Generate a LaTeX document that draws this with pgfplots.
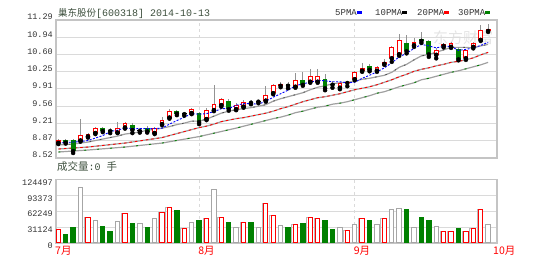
\documentclass[border=0pt]{standalone}
\usepackage{fontspec}
\usepackage{pgfplots}
\usepackage{pgfplotstable}
\pgfplotsset{compat=1.18}
\setmainfont{Liberation Sans}
\newfontfamily\cjk{Noto Sans CJK SC}
\newfontfamily\mono{Liberation Mono}
\definecolor{upred}{HTML}{FF0000}
\definecolor{dngreen}{HTML}{008000}
\definecolor{framec}{HTML}{C4C4C4}
\definecolor{gridc}{HTML}{DADADA}
\definecolor{txt}{HTML}{333333}
\definecolor{titlec}{HTML}{3D4F3D}
\definecolor{magray}{HTML}{A0A0A0}

\pgfplotstableread{
x bl bh l h t
1 8.82 8.88 8.80 8.90 1
2 8.83 8.89 8.81 8.91 2
3 8.66 8.89 8.62 8.91 2
4 8.87 8.98 8.85 9.30 1
5 8.95 9.01 8.93 9.03 1
6 9.02 9.12 9.00 9.15 1
7 9.06 9.13 9.04 9.15 2
8 9.06 9.08 9.02 9.12 2
9 9.03 9.13 9.02 9.25 1
10 9.13 9.23 9.11 9.25 1
11 9.08 9.19 9.02 9.23 2
12 9.06 9.075 9.03 9.13 3
13 9.05 9.13 9.03 9.16 2
14 9.02 9.12 9.00 9.14 1
15 9.20 9.28 9.18 9.34 1
16 9.33 9.47 9.31 9.50 1
17 9.41 9.46 9.38 9.48 2
18 9.40 9.415 9.37 9.44 3
19 9.42 9.50 9.40 9.52 1
20 9.24 9.42 9.20 9.44 2
21 9.30 9.49 9.28 9.52 1
22 9.48 9.61 9.46 9.99 1
23 9.58 9.70 9.55 9.73 1
24 9.50 9.67 9.47 9.70 2
25 9.50 9.59 9.48 9.62 1
26 9.55 9.65 9.53 9.68 1
27 9.63 9.65 9.60 9.68 2
28 9.65 9.665 9.62 9.68 3
29 9.67 9.79 9.65 9.97 1
30 9.82 9.98 9.80 10.00 1
31 9.97 10.00 9.94 10.05 4
32 9.97 10.00 9.92 10.05 2
33 9.95 10.09 9.93 10.22 1
34 9.99 10.08 9.97 10.24 2
35 10.05 10.16 10.03 10.30 1
36 10.05 10.17 10.03 10.30 1
37 9.92 10.10 9.88 10.20 2
38 9.99 10.01 9.93 10.06 2
39 9.93 10.02 9.90 10.04 1
40 10.025 10.045 9.96 10.05 4
41 10.10 10.25 10.08 10.27 1
42 10.27 10.32 10.25 10.42 1
43 10.29 10.36 10.26 10.40 2
44 10.27 10.35 10.25 10.37 1
45 10.41 10.45 10.39 10.50 4
46 10.52 10.75 10.45 10.77 1
47 10.60 10.89 10.57 11.00 1
48 10.66 10.83 10.62 10.98 2
49 10.78 10.85 10.75 10.93 1
50 10.87 10.90 10.83 11.05 2
51 10.60 10.86 10.55 10.88 2
52 10.59 10.69 10.52 10.72 1
53 10.77 10.80 10.74 10.83 4
54 10.75 10.82 10.73 10.84 1
55 10.50 10.70 10.48 10.74 2
56 10.52 10.69 10.49 10.71 1
57 10.75 10.82 10.72 10.85 1
58 10.89 11.09 10.87 11.19 1
59 11.07 11.10 11.05 11.20 4
}\candles

\pgfplotstableread{
x v t
1 26900 1
2 17000 2
3 29500 2
4 108000 3
5 50400 1
6 43200 3
7 32100 2
8 22900 2
9 41300 3
10 58300 1
11 38000 2
12 38000 3
13 29500 2
14 48500 3
15 60300 1
16 69400 1
17 62900 2
18 28800 1
19 39300 3
20 43900 2
21 48500 1
22 104800 3
23 49100 1
24 39300 2
25 30100 3
26 39300 1
27 39300 2
28 29500 3
29 78000 1
30 54400 1
31 33400 3
32 29500 2
33 36000 1
34 38000 2
35 49100 1
36 47200 1
37 43200 2
38 26900 2
39 30100 3
40 24200 1
41 36000 3
42 47200 1
43 43200 2
44 36000 3
45 47200 1
46 65500 3
47 67500 3
48 65500 2
49 30100 3
50 49100 2
51 43200 2
52 31400 3
53 22300 1
54 22300 1
55 28200 2
56 22900 1
57 28800 1
58 65500 1
59 35400 3
}\vols

\pgfplotstableread{
x m5 m10
1 8.82 8.78
2 8.83 8.79
3 8.84 8.80
4 8.85 8.82
5 8.87 8.84
6 8.92 8.87
7 8.97 8.90
8 9.05 8.93
9 9.08 8.96
10 9.12 9.00
11 9.11 9.02
12 9.11 9.04
13 9.11 9.08
14 9.11 9.09
15 9.12 9.12
16 9.20 9.15
17 9.27 9.19
18 9.34 9.22
19 9.41 9.26
20 9.40 9.26
21 9.41 9.30
22 9.45 9.36
23 9.51 9.42
24 9.51 9.46
25 9.58 9.49
26 9.61 9.51
27 9.61 9.53
28 9.60 9.56
29 9.66 9.59
30 9.74 9.66
31 9.81 9.71
32 9.88 9.75
33 9.97 9.79
34 10.01 9.83
35 10.04 9.89
36 10.08 9.94
37 10.07 9.97
38 10.05 10.01
39 10.05 10.03
40 10.03 10.04
41 10.04 10.06
42 10.12 10.10
43 10.18 10.12
44 10.25 10.15
45 10.33 10.18
46 10.43 10.24
47 10.55 10.34
48 10.62 10.40
49 10.72 10.49
50 10.80 10.57
51 10.77 10.60
52 10.73 10.64
53 10.76 10.69
54 10.76 10.74
55 10.68 10.74
56 10.70 10.74
57 10.73 10.73
58 10.78 10.77
59 10.84 10.80
}\mafast

\pgfplotstableread{
x m20
1 8.70
5 8.74
10 8.82
15 8.93
19 9.09
20 9.13
21 9.16
22 9.20
23 9.25
24 9.28
25 9.31
26 9.33
27 9.36
28 9.39
29 9.42
30 9.46
31 9.51
32 9.55
33 9.60
34 9.65
35 9.69
36 9.73
37 9.75
38 9.78
39 9.81
40 9.85
41 9.89
42 9.92
43 9.95
44 9.99
45 10.04
46 10.09
47 10.15
48 10.20
49 10.26
50 10.30
51 10.33
52 10.37
53 10.40
54 10.44
55 10.46
56 10.49
57 10.53
58 10.59
59 10.64
}\matwenty

\pgfplotstableread{
x m30
1 8.64
5 8.68
10 8.74
15 8.82
20 8.95
25 9.12
30 9.31
31 9.34
32 9.38
33 9.43
34 9.46
35 9.50
36 9.54
37 9.56
38 9.60
39 9.62
40 9.65
41 9.69
42 9.73
43 9.77
44 9.82
45 9.85
46 9.90
47 9.95
48 9.99
49 10.03
50 10.09
51 10.12
52 10.16
53 10.20
54 10.24
55 10.27
56 10.31
57 10.35
58 10.39
59 10.44
}\mathirty

\pgfplotsset{
  body/.style={only marks, mark=none, restrict expr to domain={\thisrow{t}}{#1:#1},
    error bars/.cd, y dir=plus, y explicit, error mark=none},
  panel/.style={scale only axis, width=441pt, xmin=0.69, xmax=60.2,
    axis line style={draw=framec, line width=1.3pt},
    xtick={0.69,20,41,60.2},
    major tick length=0pt,
    xmajorgrids, ymajorgrids,
    x grid style={draw=gridc, dash pattern=on 3pt off 3pt, line width=1pt},
    y grid style={draw=gridc, line width=1pt},
    yticklabel style={font=\mono\fontsize{8.5}{9}\selectfont, text=txt, inner sep=0pt, xshift=-3pt}},
  vbar/.style={ybar, bar width=4.4pt, bar shift=0pt, line width=1pt, restrict expr to domain={\thisrow{t}}{#1:#1}},
}

\begin{document}
\begin{tikzpicture}
\path[use as bounding box] (0,0) rectangle (550pt,262pt);
\node[anchor=center, text=gray!22, font=\cjk\fontsize{15}{15}\selectfont, inner sep=0] at (463pt,224pt) {东方财富};

\begin{axis}[panel, at={(56pt,104pt)}, anchor=south west, height=138pt,
  ymin=8.52, ymax=11.29, xticklabels={},
  ytick={8.52,8.86625,9.2125,9.55875,9.905,10.25125,10.5975,10.94375,11.29},
  yticklabels={8.52,8.87,9.21,9.56,9.91,10.25,10.60,10.94,11.29},
  yticklabel style={yshift=3pt}]
\addplot[magray, line width=1.2pt] table[x=x,y=m30]{\mathirty};
\addplot[dngreen, line width=0.9pt, dash pattern=on 2pt off 11pt] table[x=x,y=m30]{\mathirty};
\addplot[magray, line width=1.2pt] table[x=x,y=m20]{\matwenty};
\addplot[upred, line width=0.9pt, dash pattern=on 2.5pt off 3pt] table[x=x,y=m20]{\matwenty};
\addplot[magray, line width=1.2pt] table[x=x,y=m10]{\mafast};
\addplot[black!70, line width=0.8pt, dash pattern=on 1.5pt off 9pt] table[x=x,y=m10]{\mafast};
% wicks
\addplot[only marks, mark=none, error bars/.cd, y dir=plus, y explicit, error mark=none,
  error bar style={draw=gray!85, line width=0.8pt}]
  table[x=x, y=l, y error expr=\thisrow{h}-\thisrow{l}]{\candles};
% bodies
\addplot[body=1, error bar style={draw=upred, line width=4.8pt, line cap=butt}]
  table[x=x, y=bl, y error expr=\thisrow{bh}-\thisrow{bl}]{\candles};
\addplot[body=1, error bar style={draw=white, line width=2.8pt, line cap=butt, shorten <=1pt, shorten >=1pt}]
  table[x=x, y=bl, y error expr=\thisrow{bh}-\thisrow{bl}]{\candles};
\addplot[body=4, error bar style={draw=upred, line width=4.8pt, line cap=butt}]
  table[x=x, y=bl, y error expr=\thisrow{bh}-\thisrow{bl}]{\candles};
\addplot[body=2, error bar style={draw=dngreen, line width=4.8pt, line cap=butt}]
  table[x=x, y=bl, y error expr=\thisrow{bh}-\thisrow{bl}]{\candles};
\addplot[body=3, error bar style={draw=black, line width=4.8pt, line cap=butt}]
  table[x=x, y=bl, y error expr=\thisrow{bh}-\thisrow{bl}]{\candles};
\addplot[blue, line width=0.9pt, dash pattern=on 2pt off 1.5pt] table[x=x,y=m5]{\mafast};
\end{axis}

\begin{axis}[panel, at={(56pt,19pt)}, anchor=south west, height=63.7pt,
  ymin=0, ymax=124497, scaled y ticks=false,
  ytick={0,31124,62249,93373,124497},
  yticklabels={0,31124,62249,93373,124497},
  yticklabel style={yshift=-3pt},
  xticklabels={7月,8月,9月,\hspace*{-3pt}10月},
  xticklabel style={anchor=north west, text=upred, font=\cjk\fontsize{10.5}{11}\selectfont, inner sep=0pt, yshift=-3pt, xshift=-1pt}]
\addplot[vbar=1, bar shift=-1.3pt, draw=gray!55, fill=none] table[x=x,y=v]{\vols};
\addplot[vbar=1, draw=upred, fill=white] table[x=x,y=v]{\vols};
\addplot[vbar=3, draw=gray!70, fill=white] table[x=x,y=v]{\vols};
\addplot[vbar=2, draw=dngreen, fill=dngreen] table[x=x,y=v]{\vols};
\end{axis}

\node[anchor=base west, inner sep=0, text=titlec] at (58pt,245pt)
  {{\cjk\fontsize{9.5}{10}\selectfont 巢东股份}{\mono\fontsize{10}{10}\selectfont[600318] 2014-10-13}};
\node[anchor=base west, inner sep=0, text=titlec] at (57pt,91pt)
  {{\cjk\fontsize{10.5}{11}\selectfont 成交量}{\mono\fontsize{10}{10}\selectfont:0 }{\cjk\fontsize{10.5}{11}\selectfont 手}};
\node[anchor=base west, inner sep=0, text=txt, font=\mono\fontsize{9}{9}\selectfont] at (335pt,246pt)
  {5PMA\textcolor{blue}{\raisebox{1.5pt}{\rule{5pt}{3pt}}}};
\node[anchor=base west, inner sep=0, text=txt, font=\mono\fontsize{9}{9}\selectfont] at (375pt,246pt)
  {10PMA\textcolor{black}{\raisebox{1.5pt}{\rule{5pt}{3pt}}}};
\node[anchor=base west, inner sep=0, text=txt, font=\mono\fontsize{9}{9}\selectfont] at (417pt,246pt)
  {20PMA\textcolor{upred}{\raisebox{1.5pt}{\rule{5pt}{3pt}}}};
\node[anchor=base west, inner sep=0, text=txt, font=\mono\fontsize{9}{9}\selectfont] at (458pt,246pt)
  {30PMA\textcolor{dngreen}{\raisebox{1.5pt}{\rule{5pt}{3pt}}}};
\end{tikzpicture}
\end{document}
